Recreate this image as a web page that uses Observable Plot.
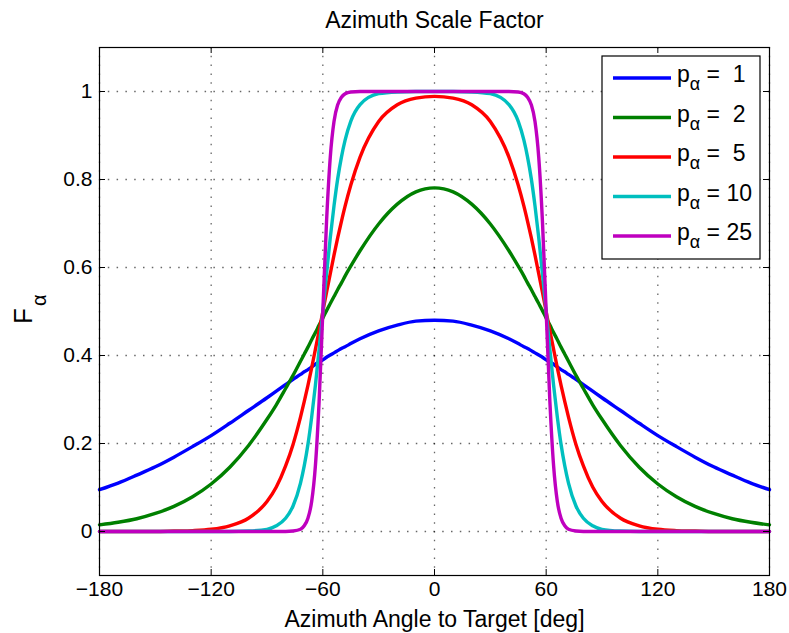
<!DOCTYPE html>
<html><head><meta charset="utf-8">
<script src="https://cdn.jsdelivr.net/npm/d3@7"></script>
<script src="https://cdn.jsdelivr.net/npm/@observablehq/plot@0.6"></script>
<style>
body{margin:0;background:#fff;}
#chart svg{font-family:"Liberation Sans",Arial,Helvetica,sans-serif;}
</style>
</head><body><div id="chart"></div>
<script>
const titleText = "Azimuth Scale Factor";
const xLabelText = "Azimuth Angle to Target [deg]";
const xTicks = [-180,-120,-60,0,60,120,180];
const yTicks = [0,0.2,0.4,0.6,0.8,1];

const angles = [-180,-170,-160,-150,-140,-130,-120,-110,-100,-90,-85,-80,-76,-72,-70,-68,-66,-64,-62,-60,-58,-56,-54,-52,-50,-48,-45,-40,-30,-20,-10,0,10,20,30,40,45,48,50,52,54,56,58,60,62,64,66,68,70,72,76,80,85,90,100,110,120,130,140,150,160,170,180];

const p1 = [0.095,0.110,0.128,0.147,0.169,0.193,0.218,0.246,0.275,0.304,0.319,0.334,0.346,0.357,0.363,0.368,0.374,0.380,0.385,0.390,0.396,0.401,0.406,0.411,0.416,0.420,0.427,0.438,0.456,0.469,0.478,
0.480,
0.478,0.469,0.456,0.438,0.427,0.420,0.416,0.411,0.406,0.401,0.396,0.390,0.385,0.380,0.374,0.368,0.363,0.357,0.346,0.334,0.319,0.304,0.275,0.246,0.218,0.193,0.169,0.147,0.128,0.110,0.095];

const p2 = [0.015,0.021,0.029,0.041,0.057,0.079,0.108,0.146,0.195,0.255,0.288,0.325,0.355,0.387,0.403,0.419,0.436,0.452,0.469,0.485,0.502,0.518,0.534,0.550,0.565,0.581,0.603,0.638,0.699,0.744,0.772,
0.781,
0.772,0.744,0.699,0.638,0.603,0.581,0.565,0.550,0.534,0.518,0.502,0.485,0.469,0.452,0.436,0.419,0.403,0.387,0.355,0.325,0.288,0.255,0.195,0.146,0.108,0.079,0.057,0.041,0.029,0.021,0.015];

const p5 = [0.000,0.000,0.000,0.000,0.001,0.002,0.005,0.013,0.030,0.068,0.101,0.149,0.198,0.260,0.295,0.332,0.372,0.414,0.456,0.500,0.544,0.586,0.628,0.668,0.705,0.740,0.787,0.851,0.932,0.970,0.985,
0.989,
0.985,0.970,0.932,0.851,0.787,0.740,0.705,0.668,0.628,0.586,0.544,0.500,0.456,0.414,0.372,0.332,0.295,0.260,0.198,0.149,0.101,0.068,0.030,0.013,0.005,0.002,0.001,0.000,0.000,0.000,0.000];

const p10 = [0,0,0,0,0,0,0,0,0.001,0.005,0.013,0.030,0.058,0.110,0.149,0.198,0.260,0.332,0.414,0.500,0.586,0.668,0.740,0.802,0.851,0.890,0.932,0.970,0.995,0.999,1.000,
1.000,
1.000,0.999,0.995,0.970,0.932,0.890,0.851,0.802,0.740,0.668,0.586,0.500,0.414,0.332,0.260,0.198,0.149,0.110,0.058,0.030,0.013,0.005,0.001,0,0,0,0,0,0,0,0];

const p25 = [0,0,0,0,0,0,0,0,0,0,0,0,0.001,0.005,0.013,0.030,0.068,0.149,0.295,0.500,0.705,0.851,0.932,0.970,0.987,0.995,0.999,1,1,1,1,
1,
1,1,1,1,0.999,0.995,0.987,0.970,0.932,0.851,0.705,0.500,0.295,0.149,0.068,0.030,0.013,0.005,0.001,0,0,0,0,0,0,0,0,0,0,0,0];

const seriesLabels = ["1","2","5","10","25"];
const seriesValues = [p1,p2,p5,p10,p25];
const seriesColors = ["#0000ff","#008000","#ff0000","#00bfbf","#bf00bf"];

const rows = [];
seriesValues.forEach((vals, i) => {
  vals.forEach((v, j) => rows.push({angle: angles[j], value: v, series: seriesLabels[i]}));
});

const W = 789, H = 633, mL = 99, mR = 20, mT = 47, mB = 58;
const frameW = W - mL - mR, frameH = H - mT - mB;
const fmtX = d => d < 0 ? "\u2212" + (-d) : String(d);

const chart = Plot.plot({
  width: W, height: H,
  marginLeft: mL, marginRight: mR, marginTop: mT, marginBottom: mB,
  style: {fontFamily: '"Liberation Sans", Arial, Helvetica, sans-serif', fontSize: "21px", background: "#fff", overflow: "visible", color: "#000"},
  x: {domain: [-180, 180]},
  y: {domain: [-0.1, 1.1]},
  color: {domain: seriesLabels, range: seriesColors},
  marks: [
    Plot.gridX(xTicks, {stroke: "#000", strokeOpacity: 0.6, strokeWidth: 1.3, strokeDasharray: "1.5,7.3"}),
    Plot.gridY(yTicks, {stroke: "#000", strokeOpacity: 0.6, strokeWidth: 1.3, strokeDasharray: "1.5,7.3"}),
    Plot.line(rows, {x: "angle", y: "value", z: "series", stroke: "series", strokeWidth: 3.4, curve: "monotone-x"}),
    Plot.tickX(xTicks, {x: d => d, stroke: "#000", insetTop: frameH - 6}),
    Plot.tickX(xTicks, {x: d => d, stroke: "#000", insetBottom: frameH - 6}),
    Plot.tickY(yTicks, {y: d => d, stroke: "#000", insetRight: frameW - 6}),
    Plot.tickY(yTicks, {y: d => d, stroke: "#000", insetLeft: frameW - 6}),
    Plot.frame({stroke: "#000", strokeWidth: 1.2}),
    Plot.axisX(xTicks, {anchor: "bottom", tickSize: 0, tickPadding: 6, tickFormat: fmtX, fontSize: 21, label: null}),
    Plot.axisY(yTicks, {anchor: "left", tickSize: 0, tickPadding: 7, tickFormat: d => String(d), fontSize: 21, label: null}),
    Plot.text([titleText], {text: d => d, frameAnchor: "top", lineAnchor: "middle", dy: -27, fontSize: 23}),
    Plot.text([xLabelText], {text: d => d, frameAnchor: "bottom", lineAnchor: "middle", dy: 44, fontSize: 23})
  ]
});
document.getElementById("chart").appendChild(chart);

const svg = d3.select(chart);
// Y axis label F_alpha
const yl = svg.append("text")
  .attr("transform", "translate(32,324) rotate(-90)")
  .attr("text-anchor", "start")
  .attr("font-size", 26).attr("fill", "#000");
yl.append("tspan").text("F");
yl.append("tspan").attr("dx", 2).attr("dy", 14).attr("font-size", 20).text("\u03b1");

// Legend
const lg = svg.append("g").attr("text-anchor", "start");
lg.append("rect").attr("x", 602).attr("y", 56).attr("width", 158).attr("height", 203)
  .attr("fill", "#fff").attr("stroke", "#000").attr("stroke-width", 1.2);
seriesLabels.forEach((lab, i) => {
  const yy = 78 + i * 39.5;
  lg.append("line").attr("x1", 613).attr("x2", 671).attr("y1", yy).attr("y2", yy)
    .attr("stroke", seriesColors[i]).attr("stroke-width", 3.4);
  const t = lg.append("text").attr("x", 677).attr("y", yy + 4).attr("font-size", 23)
    .attr("text-anchor", "start").attr("fill", "#000").style("white-space", "pre");
  t.append("tspan").text("p");
  t.append("tspan").attr("dy", 8).attr("font-size", 18).text("\u03b1");
  t.append("tspan").attr("dy", -8).text(" = " + (lab.length < 2 ? " " : "") + lab);
});
</script>
</body></html>
